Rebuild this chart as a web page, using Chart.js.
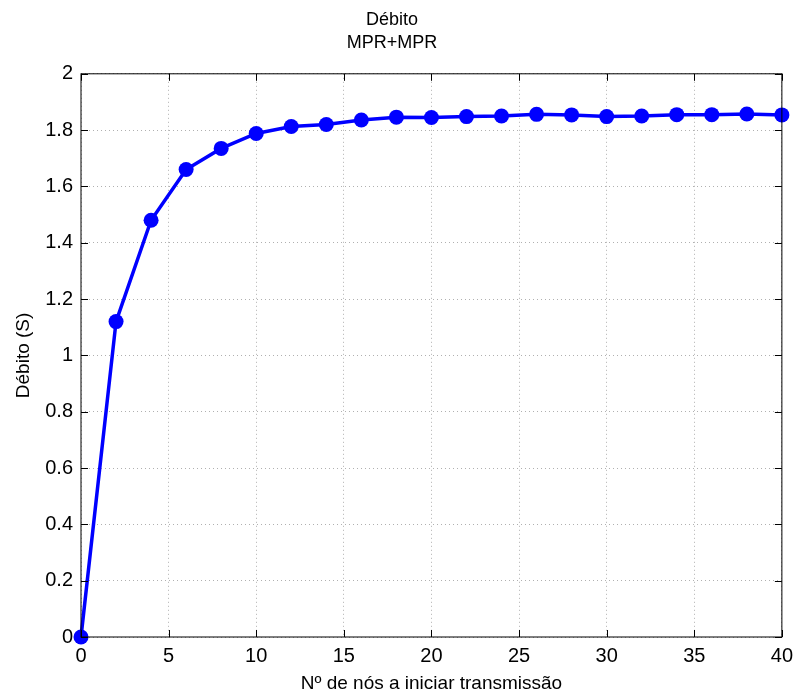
<!DOCTYPE html>
<html>
<head>
<meta charset="utf-8">
<script src="https://cdn.jsdelivr.net/npm/chart.js@4/dist/chart.umd.min.js"></script>
<style>
  html, body { margin: 0; padding: 0; background: #fff; }
  #wrap { width: 800px; height: 695px; }
</style>
</head>
<body>
<div id="wrap"><canvas id="myChart"></canvas></div>
<script>
// dados
const nos = [0, 2, 4, 6, 8, 10, 12, 14, 16, 18, 20, 22, 24, 26, 28, 30, 32, 34, 36, 38, 40];
const debito = [0, 1.12, 1.48, 1.66, 1.735, 1.788, 1.813, 1.82, 1.836, 1.846, 1.845,
  1.848, 1.85, 1.856, 1.854, 1.848, 1.85, 1.855, 1.855, 1.857, 1.854];
const xTicks = [0, 5, 10, 15, 20, 25, 30, 35, 40];
const yTicks = [0, 0.2, 0.4, 0.6, 0.8, 1, 1.2, 1.4, 1.6, 1.8, 2];

const fonte = "'Liberation Sans', Arial, sans-serif";

// marcas de escala para dentro, nos quatro lados (estilo MATLAB)
const innerTicks = {
  id: "innerTicks",
  afterDraw(chart) {
    const c = chart.ctx, a = chart.chartArea;
    const sx = chart.scales.x, sy = chart.scales.y;
    c.save();
    c.strokeStyle = "#000";
    c.lineWidth = 1;
    c.beginPath();
    xTicks.forEach(v => {
      const px = Math.round(sx.getPixelForValue(v)) + 0.5;
      c.moveTo(px, a.bottom); c.lineTo(px, a.bottom - 7);
      c.moveTo(px, a.top); c.lineTo(px, a.top + 7);
    });
    yTicks.forEach(v => {
      const py = Math.round(sy.getPixelForValue(v)) + 0.5;
      c.moveTo(a.left, py); c.lineTo(a.left + 7, py);
      c.moveTo(a.right, py); c.lineTo(a.right - 7, py);
    });
    c.stroke();
    c.strokeRect(a.left, a.top, a.right - a.left, a.bottom - a.top);
    c.restore();
  }
};

const ctx = document.getElementById("myChart");

new Chart(ctx, {
  type: "line",
  data: {
    datasets: [
      {
        data: nos.map((x, i) => ({ x: x, y: debito[i] })),
        borderColor: "#0000ff",
        backgroundColor: "#0000ff",
        borderWidth: 3.5,
        pointRadius: 7.5,
        pointHoverRadius: 7.5,
        pointBorderWidth: 0,
        tension: 0,
        clip: false,
      },
    ],
  },
  plugins: [innerTicks],
  options: {
    responsive: true,
    maintainAspectRatio: false,
    animation: false,
    layout: { padding: { left: 0, right: 16, top: 0, bottom: 0 } },
    scales: {
      x: {
        type: "linear",
        min: 0,
        max: 40,
        afterBuildTicks: (s) => { s.ticks = xTicks.map(v => ({ value: v })); },
        afterFit: (s) => { s.height = 58; },
        ticks: {
          color: "#000",
          padding: 7,
          maxRotation: 0,
          font: { size: 20, family: fonte },
        },
        grid: {
          color: "#b0b0b0",
          drawTicks: false,
        },
        border: { display: false, dash: [1, 3] },
        title: {
          display: true,
          text: "Nº de nós a iniciar transmissão",
          color: "#000",
          font: { size: 19, family: fonte },
          padding: { top: 0, bottom: 0 },
        },
      },
      y: {
        min: 0,
        max: 2,
        afterBuildTicks: (s) => { s.ticks = yTicks.map(v => ({ value: v })); },
        afterFit: (s) => { s.width = 81; },
        ticks: {
          color: "#000",
          padding: 8,
          callback: (v) => String(Math.round(v * 10) / 10),
          font: { size: 20, family: fonte },
        },
        grid: {
          color: "#b0b0b0",
          drawTicks: false,
        },
        border: { display: false, dash: [1, 3] },
        title: {
          display: true,
          text: "Débito (S)",
          color: "#000",
          font: { size: 19, family: fonte },
          padding: { top: 12, bottom: 0 },
        },
      },
    },
    plugins: {
      legend: { display: false },
      tooltip: { enabled: false },
      title: {
        display: true,
        text: ["Débito", "MPR+MPR"],
        color: "#000",
        font: { size: 18, weight: "normal", family: fonte, lineHeight: 1.3 },
        padding: { top: 8, bottom: 19 },
      },
    },
  },
});
</script>
</body>
</html>
